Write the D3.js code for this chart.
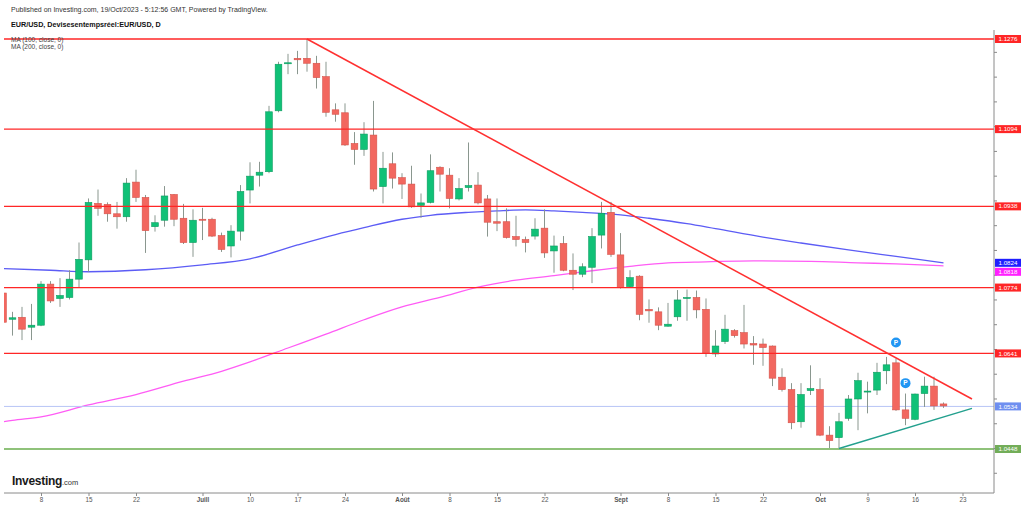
<!DOCTYPE html>
<html>
<head>
<meta charset="utf-8">
<script src="https://d3js.org/d3.v7.min.js"></script>
<style>
  body { margin: 0; background: #fff; }
  svg { display: block; font-family: "Liberation Sans", Arial, sans-serif; }
</style>
</head>
<body>
<svg id="chart" width="1024" height="507"></svg>
<script>
// EUR/USD daily, June -> October 2023
// [date, open, high, low, close]
const candles = [
  ["2023-06-02", 1.0763, 1.0775, 1.0700, 1.0704],
  ["2023-06-05", 1.0710, 1.0725, 1.0677, 1.0713],
  ["2023-06-06", 1.0714, 1.0735, 1.0668, 1.0690],
  ["2023-06-07", 1.0694, 1.0741, 1.0668, 1.0698],
  ["2023-06-08", 1.0698, 1.0787, 1.0696, 1.0781],
  ["2023-06-09", 1.0781, 1.0787, 1.0743, 1.0747],
  ["2023-06-12", 1.0752, 1.0793, 1.0735, 1.0758],
  ["2023-06-13", 1.0754, 1.0809, 1.0750, 1.0791],
  ["2023-06-14", 1.0791, 1.0865, 1.0775, 1.0831],
  ["2023-06-15", 1.0830, 1.0954, 1.0806, 1.0946],
  ["2023-06-16", 1.0944, 1.0972, 1.0919, 1.0934],
  ["2023-06-19", 1.0942, 1.0946, 1.0907, 1.0923],
  ["2023-06-20", 1.0923, 1.0947, 1.0893, 1.0917],
  ["2023-06-21", 1.0917, 1.0995, 1.0907, 1.0985],
  ["2023-06-22", 1.0987, 1.1012, 1.0947, 1.0956],
  ["2023-06-23", 1.0956, 1.0961, 1.0844, 1.0889],
  ["2023-06-26", 1.0897, 1.0920, 1.0887, 1.0905],
  ["2023-06-27", 1.0910, 1.0979, 1.0897, 1.0959],
  ["2023-06-28", 1.0962, 1.0963, 1.0898, 1.0912],
  ["2023-06-29", 1.0914, 1.0943, 1.0862, 1.0865],
  ["2023-06-30", 1.0865, 1.0932, 1.0836, 1.0910],
  ["2023-07-03", 1.0912, 1.0935, 1.0870, 1.0911],
  ["2023-07-04", 1.0912, 1.0915, 1.0876, 1.0878],
  ["2023-07-05", 1.0879, 1.0885, 1.0846, 1.0851],
  ["2023-07-06", 1.0858, 1.0900, 1.0835, 1.0888],
  ["2023-07-07", 1.0888, 1.0981, 1.0869, 1.0968],
  ["2023-07-10", 1.0971, 1.1027, 1.0944, 1.0999],
  ["2023-07-11", 1.1001, 1.1028, 1.0978, 1.1007],
  ["2023-07-12", 1.1008, 1.1141, 1.1005, 1.1129],
  ["2023-07-13", 1.1131, 1.1230, 1.1128, 1.1225],
  ["2023-07-14", 1.1226, 1.1246, 1.1205, 1.1228],
  ["2023-07-17", 1.1237, 1.1252, 1.1205, 1.1234],
  ["2023-07-18", 1.1237, 1.1276, 1.1210, 1.1227],
  ["2023-07-19", 1.1227, 1.1242, 1.1176, 1.1198],
  ["2023-07-20", 1.1200, 1.1230, 1.1119, 1.1128],
  ["2023-07-21", 1.1133, 1.1146, 1.1109, 1.1124],
  ["2023-07-24", 1.1127, 1.1146, 1.1060, 1.1062],
  ["2023-07-25", 1.1065, 1.1088, 1.1022, 1.1053],
  ["2023-07-26", 1.1053, 1.1108, 1.1040, 1.1084],
  ["2023-07-27", 1.1082, 1.1151, 1.0968, 1.0973],
  ["2023-07-28", 1.0978, 1.1048, 1.0944, 1.1015],
  ["2023-07-31", 1.1024, 1.1047, 1.0974, 1.0995],
  ["2023-08-01", 1.0996, 1.1005, 1.0953, 1.0983],
  ["2023-08-02", 1.0983, 1.1020, 1.0935, 1.0937],
  ["2023-08-03", 1.0940, 1.0964, 1.0915, 1.0945],
  ["2023-08-04", 1.0946, 1.1043, 1.0944, 1.1010],
  ["2023-08-07", 1.1017, 1.1019, 1.0968, 1.1003],
  ["2023-08-08", 1.1001, 1.1015, 1.0934, 1.0954],
  ["2023-08-09", 1.0953, 1.0995, 1.0950, 1.0974],
  ["2023-08-10", 1.0976, 1.1067, 1.0968, 1.0980],
  ["2023-08-11", 1.0981, 1.1007, 1.0942, 1.0945],
  ["2023-08-14", 1.0953, 1.0961, 1.0877, 1.0906],
  ["2023-08-15", 1.0907, 1.0954, 1.0888, 1.0904],
  ["2023-08-16", 1.0907, 1.0934, 1.0873, 1.0875],
  ["2023-08-17", 1.0877, 1.0919, 1.0857, 1.0871],
  ["2023-08-18", 1.0871, 1.0877, 1.0845, 1.0865],
  ["2023-08-21", 1.0878, 1.0914, 1.0871, 1.0892],
  ["2023-08-22", 1.0894, 1.0932, 1.0834, 1.0844],
  ["2023-08-23", 1.0848, 1.0879, 1.0804, 1.0858],
  ["2023-08-24", 1.0863, 1.0878, 1.0807, 1.0809],
  ["2023-08-25", 1.0809, 1.0843, 1.0769, 1.0801],
  ["2023-08-28", 1.0801, 1.0823, 1.0795, 1.0816],
  ["2023-08-29", 1.0815, 1.0894, 1.0783, 1.0877],
  ["2023-08-30", 1.0880, 1.0947, 1.0853, 1.0924],
  ["2023-08-31", 1.0926, 1.0947, 1.0836, 1.0841],
  ["2023-09-01", 1.0840, 1.0884, 1.0772, 1.0774],
  ["2023-09-04", 1.0776, 1.0809, 1.0774, 1.0794],
  ["2023-09-05", 1.0797, 1.0799, 1.0708, 1.0720],
  ["2023-09-06", 1.0730, 1.0750, 1.0703, 1.0727],
  ["2023-09-07", 1.0725, 1.0734, 1.0688, 1.0698],
  ["2023-09-08", 1.0696, 1.0743, 1.0695, 1.0700],
  ["2023-09-11", 1.0715, 1.0769, 1.0707, 1.0749],
  ["2023-09-12", 1.0752, 1.0770, 1.0707, 1.0754],
  ["2023-09-13", 1.0754, 1.0768, 1.0712, 1.0729],
  ["2023-09-14", 1.0730, 1.0752, 1.0634, 1.0641],
  ["2023-09-15", 1.0640, 1.0688, 1.0634, 1.0656],
  ["2023-09-18", 1.0665, 1.0719, 1.0660, 1.0690],
  ["2023-09-19", 1.0687, 1.0690, 1.0673, 1.0677],
  ["2023-09-20", 1.0683, 1.0739, 1.0651, 1.0660],
  ["2023-09-21", 1.0661, 1.0676, 1.0618, 1.0658],
  ["2023-09-22", 1.0660, 1.0671, 1.0616, 1.0653],
  ["2023-09-25", 1.0656, 1.0657, 1.0575, 1.0591],
  ["2023-09-26", 1.0593, 1.0611, 1.0564, 1.0568],
  ["2023-09-27", 1.0568, 1.0581, 1.0488, 1.0501],
  ["2023-09-28", 1.0503, 1.0581, 1.0491, 1.0558],
  ["2023-09-29", 1.0566, 1.0617, 1.0557, 1.0570],
  ["2023-10-02", 1.0568, 1.0591, 1.0474, 1.0476],
  ["2023-10-03", 1.0476, 1.0494, 1.0449, 1.0465],
  ["2023-10-04", 1.0471, 1.0521, 1.0449, 1.0503],
  ["2023-10-05", 1.0510, 1.0557, 1.0505, 1.0549],
  ["2023-10-06", 1.0549, 1.0602, 1.0486, 1.0586],
  ["2023-10-09", 1.0563, 1.0584, 1.0520, 1.0565],
  ["2023-10-10", 1.0567, 1.0622, 1.0557, 1.0603],
  ["2023-10-11", 1.0606, 1.0634, 1.0579, 1.0618],
  ["2023-10-12", 1.0622, 1.0631, 1.0525, 1.0527],
  ["2023-10-13", 1.0527, 1.0560, 1.0496, 1.0510],
  ["2023-10-16", 1.0508, 1.0560, 1.0506, 1.0559],
  ["2023-10-17", 1.0560, 1.0594, 1.0533, 1.0575],
  ["2023-10-18", 1.0575, 1.0594, 1.0527, 1.0535],
  ["2023-10-19", 1.0539, 1.0542, 1.0531, 1.0535]
]

// moving averages, sampled off the chart [date, value]
const ma100 = [
  ["2023-06-01", 1.0813], ["2023-06-09", 1.0809], ["2023-06-15", 1.0806],
  ["2023-06-23", 1.0810], ["2023-07-03", 1.0820], ["2023-07-10", 1.0832],
  ["2023-07-17", 1.0860], ["2023-07-21", 1.0881], ["2023-07-26", 1.0895],
  ["2023-08-01", 1.0912], ["2023-08-04", 1.0920], ["2023-08-10", 1.0926],
  ["2023-08-15", 1.0929], ["2023-08-18", 1.0931], ["2023-08-23", 1.0929],
  ["2023-08-28", 1.0926], ["2023-09-01", 1.0921], ["2023-09-06", 1.0914],
  ["2023-09-12", 1.0903], ["2023-09-15", 1.0893], ["2023-09-22", 1.0876],
  ["2023-09-28", 1.0864], ["2023-10-05", 1.0850], ["2023-10-12", 1.0837],
  ["2023-10-19", 1.0824]
]
const ma200 = [
  ["2023-06-01", 1.0500], ["2023-06-05", 1.0506], ["2023-06-08", 1.0513],
  ["2023-06-15", 1.0537], ["2023-06-22", 1.0558], ["2023-06-29", 1.0585],
  ["2023-07-05", 1.0605], ["2023-07-10", 1.0624], ["2023-07-14", 1.0652],
  ["2023-07-20", 1.0680], ["2023-07-26", 1.0709], ["2023-08-01", 1.0735],
  ["2023-08-07", 1.0754], ["2023-08-11", 1.0775], ["2023-08-17", 1.0789],
  ["2023-08-23", 1.0798], ["2023-08-29", 1.0808], ["2023-09-04", 1.0817],
  ["2023-09-08", 1.0824], ["2023-09-14", 1.0826], ["2023-09-21", 1.0828],
  ["2023-09-29", 1.0827], ["2023-10-06", 1.0824], ["2023-10-12", 1.0822],
  ["2023-10-19", 1.0818]
]

// drawings
const resistanceLevels = [1.1276, 1.1094, 1.0938, 1.0774, 1.0641]
const supportLevel = 1.0448
const lastPrice = 1.0534
const downTrend = [["2023-07-18", 1.1276], ["2023-10-24", 1.0549]]
const upTrend = [["2023-10-04", 1.0449], ["2023-10-24", 1.0530]]
const eventMarks = [["2023-10-12", 1.0663], ["2023-10-13", 1.0581]]

// axis labels
const dateTicks = [
  ["2023-06-08", "8"], ["2023-06-15", "15"], ["2023-06-22", "22"],
  ["2023-07-03", "Juill"], ["2023-07-10", "10"], ["2023-07-17", "17"],
  ["2023-07-24", "24"], ["2023-08-01", "Août"], ["2023-08-08", "8"],
  ["2023-08-15", "15"], ["2023-08-22", "22"], ["2023-09-01", "Sept"],
  ["2023-09-08", "8"], ["2023-09-15", "15"], ["2023-09-22", "22"],
  ["2023-10-02", "Oct"], ["2023-10-09", "9"], ["2023-10-16", "16"],
  ["2023-10-23", "23"]
]
const monthLabels = ["Juill", "Août", "Sept", "Oct"]
const priceTicks = [1.040, 1.045, 1.050, 1.055, 1.060, 1.065, 1.070, 1.075, 1.080,
                    1.085, 1.090, 1.095, 1.100, 1.105, 1.110, 1.115, 1.120, 1.125]

const COLORS = {
  up: "#10c177", upLine: "#0a9d60", down: "#f2675f", downLine: "#d6524a", wick: "#8a978f",
  level: "#ff2626", support: "#8fc27a", supportTag: "#72ad58", last: "#b7c4f6", lastTag: "#6f8ff0",
  ma100: "#5c5cf5", ma100Tag: "#1f1fff", ma200: "#ff5cf5", ma200Tag: "#ff1fff",
  downTrend: "#ff3030", upTrend: "#23a08e", mark: "#2196f3", axis: "#8a8a8a", text: "#555"
}

const svg = d3.select("#chart")
const PLOT = { left: 4, top: 30, right: 994, bottom: 493 }

const fmt = d3.timeFormat("%Y-%m-%d")
// trading calendar (weekdays) incl. a few empty days on the right
const calendar = d3.timeDay.range(new Date(2023, 5, 1), new Date(2023, 9, 27))
  .filter(d => d.getDay() > 0 && d.getDay() < 6)
  .map(fmt)

const x = d3.scalePoint().domain(calendar).range([-6.5, 991])
const y = d3.scaleLinear().domain([1.0448, 1.1276]).range([449, 39])
const bodyW = x.step() * 0.7

svg.append("clipPath").attr("id", "plotclip")
  .append("rect")
  .attr("x", PLOT.left).attr("y", PLOT.top)
  .attr("width", PLOT.right - PLOT.left).attr("height", PLOT.bottom - PLOT.top)

const plot = svg.append("g").attr("clip-path", "url(#plotclip)")

// moving averages
const maLine = d3.line().x(d => x(d[0])).y(d => y(d[1])).curve(d3.curveMonotoneX)
plot.append("path").datum(ma100).attr("d", maLine)
  .attr("fill", "none").attr("stroke", COLORS.ma100).attr("stroke-width", 1.3)
plot.append("path").datum(ma200).attr("d", maLine)
  .attr("fill", "none").attr("stroke", COLORS.ma200).attr("stroke-width", 1.3)

// last price line under the candles
plot.append("line")
  .attr("x1", PLOT.left).attr("x2", PLOT.right)
  .attr("y1", y(lastPrice)).attr("y2", y(lastPrice))
  .attr("stroke", COLORS.last).attr("stroke-width", 1)

// candles
const candle = plot.selectAll("g.candle").data(candles).join("g").attr("class", "candle")
candle.append("line")
  .attr("x1", d => x(d[0])).attr("x2", d => x(d[0]))
  .attr("y1", d => y(d[2])).attr("y2", d => y(d[3]))
  .attr("stroke", COLORS.wick).attr("stroke-width", 1)
candle.append("rect")
  .attr("x", d => x(d[0]) - bodyW / 2)
  .attr("y", d => y(Math.max(d[1], d[4])))
  .attr("width", bodyW)
  .attr("height", d => Math.max(1, Math.abs(y(d[1]) - y(d[4]))))
  .attr("fill", d => d[4] >= d[1] ? COLORS.up : COLORS.down)
  .attr("stroke", d => d[4] >= d[1] ? COLORS.upLine : COLORS.downLine)
  .attr("stroke-width", 0.6)

// horizontal levels
plot.selectAll("line.level").data(resistanceLevels).join("line").attr("class", "level")
  .attr("x1", PLOT.left).attr("x2", PLOT.right)
  .attr("y1", d => y(d)).attr("y2", d => y(d))
  .attr("stroke", COLORS.level).attr("stroke-width", 1.3)
plot.append("line")
  .attr("x1", PLOT.left).attr("x2", PLOT.right)
  .attr("y1", y(supportLevel)).attr("y2", y(supportLevel))
  .attr("stroke", COLORS.support).attr("stroke-width", 2)

// trend lines
const segment = d3.line().x(d => x(d[0])).y(d => y(d[1]))
plot.append("path").datum(downTrend).attr("d", segment)
  .attr("fill", "none").attr("stroke", COLORS.downTrend).attr("stroke-width", 1.5)
plot.append("path").datum(upTrend).attr("d", segment)
  .attr("fill", "none").attr("stroke", COLORS.upTrend).attr("stroke-width", 1.4)

// event markers
const mark = plot.selectAll("g.mark").data(eventMarks).join("g").attr("class", "mark")
  .attr("transform", d => `translate(${x(d[0])},${y(d[1])})`)
mark.append("circle").attr("r", 5).attr("fill", COLORS.mark)
mark.append("text").text("P")
  .attr("text-anchor", "middle").attr("y", 2.2)
  .attr("font-size", 6.5).attr("font-weight", "bold").attr("fill", "#fff")

// right price axis (ticks only)
const yAxis = svg.append("g")
  .attr("transform", `translate(${PLOT.right},0)`)
  .call(d3.axisRight(y).tickValues(priceTicks).tickSize(3).tickFormat(""))
yAxis.select(".domain").remove()
yAxis.selectAll(".tick line").attr("stroke", COLORS.axis)
svg.append("line")
  .attr("x1", PLOT.right).attr("x2", PLOT.right)
  .attr("y1", PLOT.top).attr("y2", PLOT.bottom)
  .attr("stroke", COLORS.axis).attr("stroke-width", 1)

// bottom date axis
const tickLabel = new Map(dateTicks)
const xAxis = svg.append("g")
  .attr("transform", `translate(0,${PLOT.bottom})`)
  .call(d3.axisBottom(x).tickValues(dateTicks.map(d => d[0])).tickSize(3)
    .tickFormat(d => tickLabel.get(d)))
xAxis.select(".domain").remove()
xAxis.selectAll(".tick line").attr("stroke", COLORS.axis)
xAxis.selectAll(".tick text")
  .attr("font-size", 6.3).attr("fill", COLORS.text).attr("dy", "0.45em")
  .attr("font-weight", d => monthLabels.includes(tickLabel.get(d)) ? "bold" : "normal")
  .attr("font-family", "'Liberation Sans', Arial, sans-serif")
svg.append("line")
  .attr("x1", PLOT.left).attr("x2", PLOT.right)
  .attr("y1", PLOT.bottom).attr("y2", PLOT.bottom)
  .attr("stroke", COLORS.axis).attr("stroke-width", 1)

// price tags on the right axis
let tags = resistanceLevels.map(v => ({ v, c: COLORS.level }))
  .concat([
    { v: ma100[ma100.length - 1][1], c: COLORS.ma100Tag },
    { v: ma200[ma200.length - 1][1], c: COLORS.ma200Tag },
    { v: lastPrice, c: COLORS.lastTag },
    { v: supportLevel, c: COLORS.supportTag }
  ])
  .sort((a, b) => b.v - a.v)
let prevY = -Infinity
tags.forEach(t => { t.y = Math.max(y(t.v), prevY + 9); prevY = t.y })
const tag = svg.selectAll("g.tag").data(tags).join("g").attr("class", "tag")
  .attr("transform", d => `translate(995,${d.y})`)
tag.append("rect").attr("x", 0).attr("y", -4).attr("width", 26).attr("height", 8)
  .attr("fill", d => d.c)
tag.append("text").text(d => d.v.toFixed(4))
  .attr("x", 3.5).attr("y", 2.1).attr("font-size", 6.2).attr("fill", "#fff")

// header texts
svg.append("text").attr("x", 11).attr("y", 12)
  .attr("font-size", 7).attr("fill", "#333")
  .text("Published on Investing.com, 19/Oct/2023 - 5:12:56 GMT, Powered by TradingView.")
svg.append("text").attr("x", 11).attr("y", 26.5)
  .attr("font-size", 7.2).attr("font-weight", "bold").attr("fill", "#111")
  .text("EUR/USD, Devisesentempsréel:EUR/USD, D")
svg.append("text").attr("x", 11).attr("y", 42)
  .attr("font-size", 6.5).attr("fill", "#444").text("MA (100, close, 0)")
svg.append("text").attr("x", 11).attr("y", 48.5)
  .attr("font-size", 6.5).attr("fill", "#444").text("MA (200, close, 0)")

// logo
const logo = svg.append("text").attr("x", 12).attr("y", 485)
logo.append("tspan").text("Investing")
  .attr("font-size", 12).attr("font-weight", "bold").attr("fill", "#1a1a1a")
  .attr("letter-spacing", -0.3)
logo.append("tspan").text(".com")
  .attr("font-size", 7.5).attr("fill", "#333")
</script>
</body>
</html>
